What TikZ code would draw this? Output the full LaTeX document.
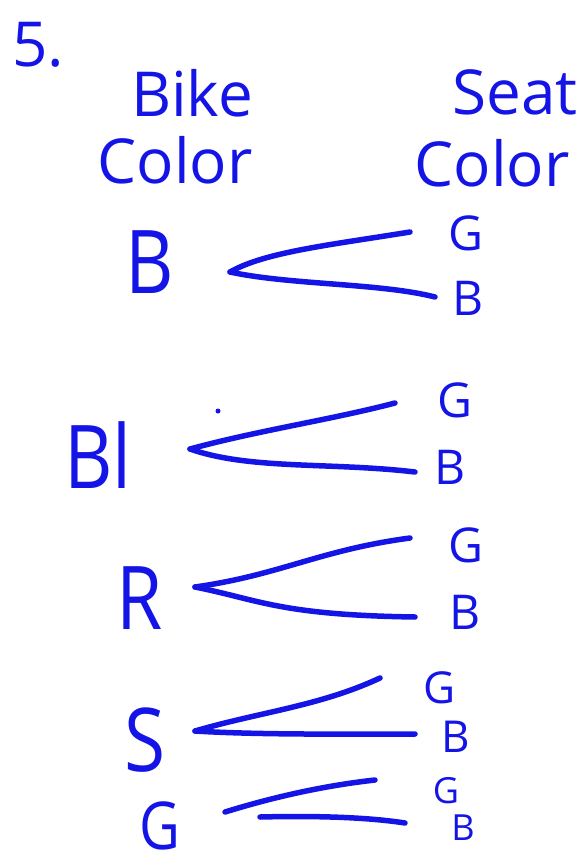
\documentclass[tikz,border=0pt]{standalone}
\usepackage{fontspec}
\setmainfont{Open Sans}
\definecolor{ink}{RGB}{20,20,230}
\tikzset{
  lbl/.style={text=ink, inner sep=0pt, font=\fontsize{88}{92}\selectfont, xscale=0.85},
  seatl/.style={text=ink, inner sep=0pt, font=\fontsize{48}{52}\selectfont},
  head/.style={text=ink, inner sep=0pt, font=\fontsize{62}{66}\selectfont},
  branch/.style={draw=ink, line width=5.5pt, line cap=round, line join=round},
}
\begin{document}
\begin{tikzpicture}[x=1pt,y=-1pt]
\useasboundingbox (0,0) rectangle (584,866);

% headings
\node[head] (num) at (38,45) {5.};
\node[head] (bike) at (192,93) {Bike};
\node[head] (bcol) at (175,160) {Color};
\node[head] (seat) at (515,92) {Seat};
\node[head] (scol) at (492,163) {Color};

% bike colours
\node[lbl] (b1) at (150,262) {B};
\node[lbl] (b2) at (98,455) {Bl};
\node[lbl] (b3) at (140,598) {R};
\node[lbl] (b4) at (145,740) {S};
\node[lbl,font=\fontsize{66}{70}\selectfont] (b5) at (160,826) {G};

% seat colours
\node[seatl] (s1g) at (466,233) {G};
\node[seatl] (s1b) at (468,298) {B};
\node[seatl] (s2g) at (455,400) {G};
\node[seatl] (s2b) at (450,467) {B};
\node[seatl] (s3g) at (466,545) {G};
\node[seatl] (s3b) at (465,612) {B};
\node[seatl,font=\fontsize{44}{48}\selectfont] (s4g) at (440,688) {G};
\node[seatl,font=\fontsize{44}{48}\selectfont] (s4b) at (456,737) {B};
\node[seatl,font=\fontsize{36}{40}\selectfont] (s5g) at (446,791) {G};
\node[seatl,font=\fontsize{36}{40}\selectfont] (s5b) at (463,828) {B};

% branch end points
\coordinate (r1) at (230,272);
\coordinate (e1g) at (410,232);
\coordinate (e1b) at (435,297);
\coordinate (r2) at (190,449);
\coordinate (e2g) at (395,403);
\coordinate (e2b) at (415,472);
\coordinate (r3) at (195,587);
\coordinate (e3g) at (410,538);
\coordinate (e3b) at (415,617);
\coordinate (r4) at (195,731);
\coordinate (e4g) at (380,678);
\coordinate (e4b) at (415,734);
\coordinate (r5a) at (225,812);
\coordinate (e5g) at (375,780);
\coordinate (r5b) at (260,817);
\coordinate (e5b) at (405,823);

% branches
\draw[branch] (r1) .. controls (265,252) and (330,245) .. (e1g);
\draw[branch] (r1) .. controls (290,285) and (380,283) .. (e1b);
\draw[branch] (r2) .. controls (260,430) and (330,420) .. (e2g);
\draw[branch] (r2) .. controls (250,470) and (330,462) .. (e2b);
\draw[branch] (r3) .. controls (280,575) and (320,550) .. (e3g);
\draw[branch] (r3) .. controls (260,600) and (280,615) .. (e3b);
\draw[branch] (r4) .. controls (260,712) and (320,706) .. (e4g);
\draw[branch] (r4) .. controls (260,735) and (350,734) .. (e4b);
\draw[branch] (r5a) .. controls (280,795) and (330,785) .. (e5g);
\draw[branch] (r5b) .. controls (300,816) and (360,816) .. (e5b);

% stray dot
\fill[ink] (218,411) circle (2.5pt);
\end{tikzpicture}
\end{document}
